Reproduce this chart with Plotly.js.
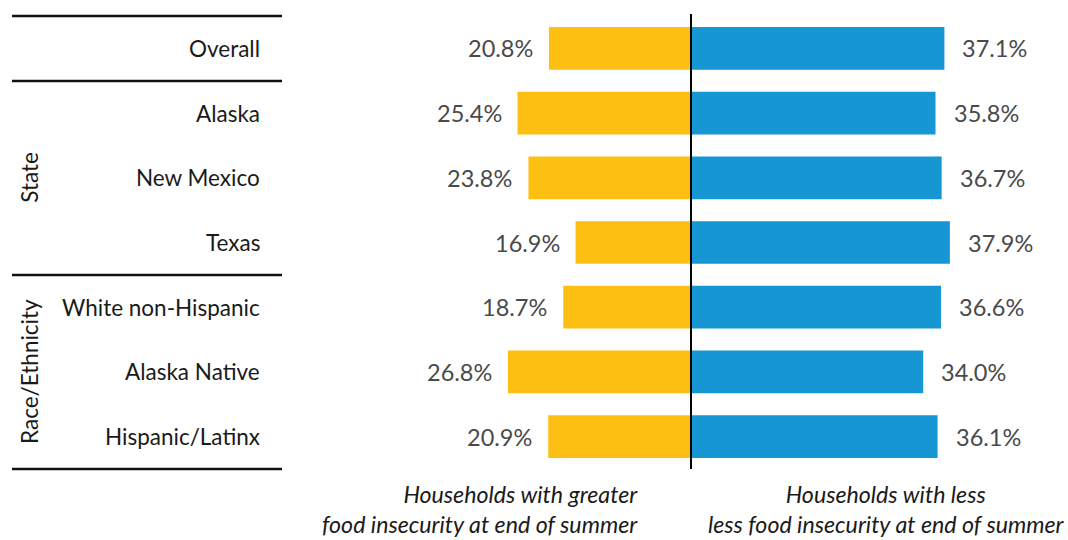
<!DOCTYPE html>
<html>
<head>
<meta charset="utf-8">
<script src="https://cdn.plot.ly/plotly-3.0.1.min.js"></script>
<style>html,body{margin:0;padding:0;background:#fff;}#chart{width:1068px;height:540px;}</style>
</head>
<body>
<div id="chart"></div>
<script>
const categories = ["Overall", "Alaska", "New Mexico", "Texas", "White non-Hispanic", "Alaska Native", "Hispanic/Latinx"];
const greaterInsecurity = [20.8, 25.4, 23.8, 16.9, 18.7, 26.8, 20.9];
const lessInsecurity = [37.1, 35.8, 36.7, 37.9, 36.6, 34.0, 36.1];
const groupLabels = ["State", "Race/Ethnicity"];
const groupMembers = [["Alaska", "New Mexico", "Texas"], ["White non-Hispanic", "Alaska Native", "Hispanic/Latinx"]];
const leftTitle = "Households with greater<br>food insecurity at end of summer";
const rightTitle = "Households with less<br>less food insecurity at end of summer";

const W = 1068, H = 540;
const px = v => v / W;
const py = v => 1 - v / H;
const FONT = "Lato, 'Open Sans', sans-serif";

const idx = categories.map((c, i) => i);

const traces = [
  {
    type: "bar", orientation: "h",
    y: idx, x: greaterInsecurity.map(v => -v),
    marker: {color: "#FDBF11", line: {width: 0}},
    width: 0.66, hoverinfo: "skip", showlegend: false
  },
  {
    type: "bar", orientation: "h",
    y: idx, x: lessInsecurity,
    marker: {color: "#1696D2", line: {width: 0}},
    width: 0.66, hoverinfo: "skip", showlegend: false
  }
];

const annotations = [];
categories.forEach((c, i) => {
  annotations.push({x: px(262), xref: "paper", y: i, yref: "y", text: c, showarrow: false,
    xanchor: "right", yanchor: "middle", font: {family: FONT, size: 22.5, color: "#1a1a1a"}});
  annotations.push({x: -greaterInsecurity[i], xref: "x", y: i, yref: "y", text: greaterInsecurity[i].toFixed(1) + "%",
    showarrow: false, xanchor: "right", yanchor: "middle", xshift: -14,
    font: {family: FONT, size: 23.5, color: "#4a4a4a"}});
  annotations.push({x: lessInsecurity[i], xref: "x", y: i, yref: "y", text: lessInsecurity[i].toFixed(1) + "%",
    showarrow: false, xanchor: "left", yanchor: "middle", xshift: 16,
    font: {family: FONT, size: 23.5, color: "#4a4a4a"}});
});
groupLabels.forEach((g, k) => {
  const members = groupMembers[k].map(m => categories.indexOf(m));
  const mid = (Math.min(...members) + Math.max(...members)) / 2;
  annotations.push({x: px(30), xref: "paper", y: mid, yref: "y", text: g, textangle: -90, showarrow: false,
    xanchor: "center", yanchor: "middle", font: {family: FONT, size: 22.5, color: "#1a1a1a"}});
});
annotations.push({x: px(640), xref: "paper", y: py(509), yref: "paper", text: leftTitle, showarrow: false,
  xanchor: "right", yanchor: "middle", align: "right",
  font: {family: FONT, size: 23.2, color: "#1a1a1a", style: "italic"}});
annotations.push({x: px(886), xref: "paper", y: py(509), yref: "paper", text: rightTitle, showarrow: false,
  xanchor: "center", yanchor: "middle", align: "center",
  font: {family: FONT, size: 23.2, color: "#1a1a1a", style: "italic"}});

const shapes = [];
[16, 81, 275, 469].forEach(yy => {
  shapes.push({type: "line", xref: "paper", yref: "paper", x0: px(12), x1: px(282), y0: py(yy), y1: py(yy),
    line: {color: "#111", width: 2.5}});
});
shapes.push({type: "line", xref: "x", yref: "paper", x0: 0, x1: 0, y0: py(14), y1: py(469),
  line: {color: "#000", width: 2}});

const pxPerUnit = 6.83, zeroPx = 691;
const layout = {
  width: W, height: H,
  margin: {l: 0, r: 0, t: 0, b: 0},
  paper_bgcolor: "#fff", plot_bgcolor: "#fff",
  barmode: "overlay",
  xaxis: {domain: [0, 1], range: [-zeroPx / pxPerUnit, (W - zeroPx) / pxPerUnit],
    showgrid: false, zeroline: false, showticklabels: false, ticks: "", fixedrange: true},
  yaxis: {domain: [py(469), py(16)], range: [categories.length - 0.5, -0.5],
    showgrid: false, zeroline: false, showticklabels: false, ticks: "", fixedrange: true},
  annotations: annotations,
  shapes: shapes,
  font: {family: FONT}
};

Plotly.newPlot("chart", traces, layout, {displayModeBar: false, staticPlot: true});
</script>
</body>
</html>
